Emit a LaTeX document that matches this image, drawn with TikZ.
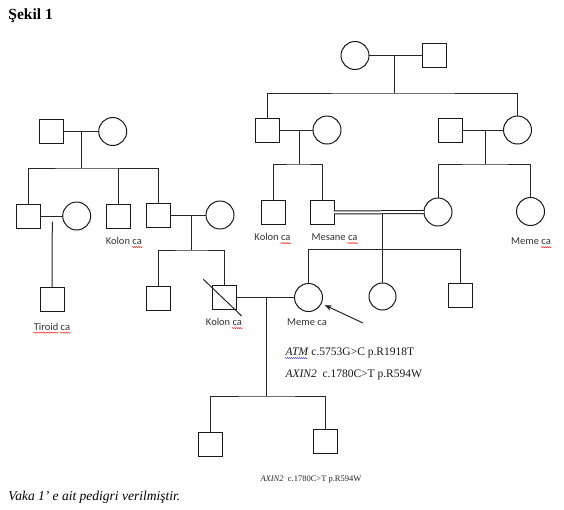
\documentclass[tikz,border=0pt]{standalone}
\usepackage{fontspec}
\setmainfont{Liberation Serif}
\newfontfamily\labfont{Carlito}
\usetikzlibrary{arrows.meta,decorations.pathmorphing}
\begin{document}
\begin{tikzpicture}[x=1pt,y=-1pt,line width=1pt,
  msq/.style={draw=black!90,rectangle,minimum size=24pt,inner sep=0pt,outer sep=0pt},
  fci/.style={draw=black!90,circle,minimum size=28pt,inner sep=0pt,outer sep=0pt},
  ln/.style={draw=black!85},
  lab/.style={font=\labfont\fontsize{10.5}{12}\selectfont,text=black!80,anchor=base,inner sep=0pt},
  mut/.style={font=\fontsize{11.5}{13}\selectfont,text=black!90,anchor=base west,inner sep=0pt},
  mutsm/.style={font=\fontsize{8.5}{10}\selectfont,text=black!85,anchor=base west,inner sep=0pt},
  wav/.style={draw=red!85,line width=0.45pt,decorate,decoration={snake,segment length=2pt,amplitude=0.6pt}},
  bwav/.style={draw=blue!70,line width=0.45pt,decorate,decoration={snake,segment length=2pt,amplitude=0.6pt}}]
\useasboundingbox[fill=white] (0,0) rectangle (564,509);

% title and caption
\node[anchor=base west,inner sep=0pt,font=\bfseries\fontsize{15.5}{18}\selectfont] (title) at (8,19) {Şekil 1};
\node[anchor=base west,inner sep=0pt,font=\itshape\fontsize{13.5}{15}\selectfont] (caption) at (8,500.5) {Vaka 1' e ait pedigri verilmiştir.};

% ---------- right family ----------
\node[fci] (Ctop) at (355,55.5) {};
\node[msq] (Stop) at (434,55.5) {};
\coordinate (t1) at (394,55.5);
\coordinate (t2) at (394,93);

\node[msq] (Sa) at (267,130) {};
\node[fci] (Ca) at (327,130) {};
\node[msq] (Sb) at (450,130) {};
\node[fci] (Cb) at (517.5,130) {};

\coordinate (a1) at (299.5,130);
\coordinate (a2) at (299.5,164);
\coordinate (b1) at (485,130);
\coordinate (b2) at (485,164);

\node[msq] (Sc) at (273.5,212.5) {};
\node[msq] (Sd) at (322,212.5) {};
\node[fci] (Cd) at (438,212) {};
\node[fci] (Ce) at (530.5,211.5) {};

\coordinate (d1) at (382.5,214);
\coordinate (d2) at (382.5,249.5);

\node[fci] (Cp) at (308.5,297.5) {};
\node[fci,minimum size=27pt] (Cg) at (382.5,296.5) {};
\node[msq] (Sg) at (460,295.5) {};

\draw[ln] (Ctop) -- (Stop);
\draw[ln] (t1) -- (t2);
\draw[ln] (Sa.north) |- (t2) -| (Cb.north);
\draw[ln] (Sa) -- (Ca);
\draw[ln] (a1) -- (a2);
\draw[ln] (Sc.north) |- (a2) -| (Sd.north);
\draw[ln] (Sb) -- (Cb);
\draw[ln] (b1) -- (b2);
\draw[ln] (Cd.north) |- (b2) -| (Ce.north);
\draw[draw=black!90,line width=1pt,double=white,double distance=2pt] (Sd) -- (Cd);
\draw[ln] (d1) -- (Cg.north);
\draw[ln] (Cp.north) |- (d2) -| (Sg.north);

% ---------- left family ----------
\node[msq] (SL1) at (51.7,131.5) {};
\node[fci] (CL1) at (112.7,131.5) {};
\coordinate (l1) at (81.7,131.5);
\coordinate (l2) at (81.7,168);

\node[msq] (SL2) at (28,216) {};
\node[fci] (CL2) at (76.7,216) {};
\node[msq] (SL3) at (118.8,216) {};
\node[msq] (SL4) at (158.3,215) {};
\node[fci] (CL4) at (220,215) {};
\coordinate (l3) at (52.3,221.5);
\coordinate (l4) at (191.7,215);
\coordinate (l5) at (191.7,250);

\node[msq] (Stir) at (52,299) {};
\node[msq] (S5) at (158.5,298.5) {};
\node[msq] (Sdec) at (224.5,297.5) {};

\coordinate (p1) at (266,297.5);
\coordinate (p2) at (266,396);
\node[msq] (K1) at (210.5,444.5) {};
\node[msq] (K2) at (325.5,441.5) {};

\draw[ln] (SL1) -- (CL1);
\draw[ln] (l1) -- (l2);
\draw[ln] (SL2.north) |- (l2) -| (SL4.north);
\draw[ln] (SL3.north) -- (SL3.north |- l2);
\draw[ln] (SL2) -- (CL2);
\draw[ln] (l3) -- (Stir.north);
\draw[ln] (SL4) -- (CL4);
\draw[ln] (l4) -- (l5);
\draw[ln] (S5.north) |- (l5) -| (Sdec.north);
\draw[ln] ([shift={(-21.2,-18.2)}]Sdec.center) coordinate (sl1) -- ([shift={(17.2,18.5)}]Sdec.center) coordinate (sl2);
\draw[ln] (Sdec) -- (Cp);
\draw[ln] (p1) -- (p2);
\draw[ln] (K1.north) |- (p2) -| (K2.north);

% proband arrow
\coordinate (ar) at (363,323);
\draw[ln,line width=1pt,-{Stealth[length=7pt,width=5.5pt]},shorten >=4pt] (ar) -- (Cp);

% ---------- labels ----------
\node[lab] (lab1) at (272.5,240.5) {Kolon ca};
\node[lab] (lab2) at (334.5,240.5) {Mesane ca};
\node[lab] (lab3) at (531,244.5) {Meme ca};
\node[lab] (lab4) at (123.8,244.5) {Kolon ca};
\node[lab] (lab5) at (224,325.5) {Kolon ca};
\node[lab] (lab6) at (307,325.5) {Meme ca};
\node[lab] (lab7) at (52,330) {Tiroid ca};

\foreach \n in {lab1,lab2,lab3,lab4,lab5,lab7}
  \draw[wav] ([xshift=-10.5pt,yshift=-2.6pt]\n.base east) -- ([yshift=-2.6pt]\n.base east);
\draw[wav] ([yshift=-2.6pt]lab7.base west) -- ([xshift=25pt,yshift=-2.6pt]lab7.base west);

\node[mut] (m1) at (285,355.5) {\textit{ATM} c.5753G>C p.R1918T};
\draw[bwav] ([yshift=-2.5pt]m1.base west) -- ([xshift=23pt,yshift=-2.5pt]m1.base west);
\node[mut] (m2) at (285,377) {\textit{AXIN2}\ \ c.1780C>T p.R594W};
\node[mutsm] (m3) at (260,481) {\textit{AXIN2}\ \ c.1780C>T p.R594W};
\end{tikzpicture}
\end{document}
